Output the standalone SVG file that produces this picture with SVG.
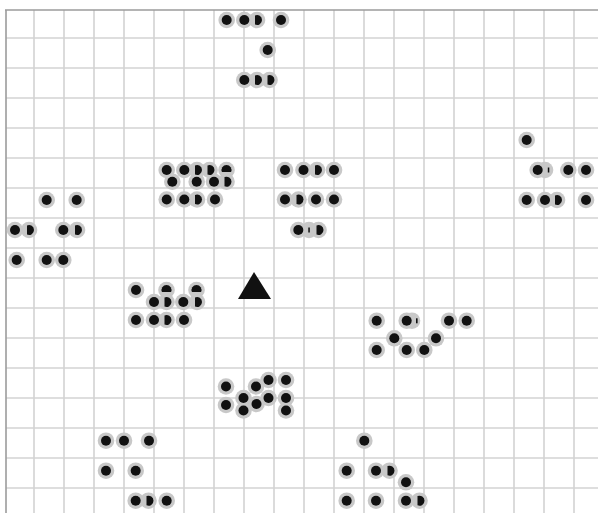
<svg xmlns="http://www.w3.org/2000/svg" xmlns:xlink="http://www.w3.org/1999/xlink" width="598" height="513" viewBox="0 0 598 513">
<style>
.grid{stroke:#d3d3d3;stroke-width:1.6;fill:none}
.border{stroke:#9c9c9c;stroke-width:1.6;fill:none}
.h{fill:#c8c8c8}
.k{fill:#111}
</style>
<defs>
<circle id="h" r="8.3"/>
<circle id="d" r="5"/>
</defs>
<rect width="598" height="513" fill="#fff"/>
<g id="grid">
<path class="grid" d="M34,10V513M64,10V513M94,10V513M124,10V513M154,10V513M184,10V513M214,10V513M244,10V513M274,10V513M304,10V513M334,10V513M364,10V513M394,10V513M424,10V513M454,10V513M484,10V513M514,10V513M544,10V513M574,10V513M6,38H598M6,68H598M6,98H598M6,128H598M6,158H598M6,188H598M6,218H598M6,248H598M6,278H598M6,308H598M6,338H598M6,368H598M6,398H598M6,428H598M6,458H598M6,488H598"/>
<path class="border" d="M5,10H598M6,10V513"/>
</g>
<g id="clusterA">
<g class="h">
<use href="#h" x="226.7" y="20"/><use href="#h" x="244.3" y="20"/><use href="#h" x="257" y="20"/><use href="#h" x="281" y="20"/>
<use href="#h" x="267.7" y="50"/>
<use href="#h" x="244.3" y="80"/><use href="#h" x="257" y="80"/><use href="#h" x="269.5" y="80"/>
</g>
<g class="k">
<use href="#d" x="226.7" y="20"/><use href="#d" x="244.3" y="20"/><use href="#d" x="281" y="20"/>
<use href="#d" x="267.7" y="50"/><use href="#d" x="244.3" y="80"/>
<path d="M255,15.42A5,5 0 1 1 255,24.58Z"/>
<path d="M255,75.42A5,5 0 1 1 255,84.58Z"/>
<path d="M267.5,75.42A5,5 0 1 1 267.5,84.58Z"/>
</g>
</g>
<g id="clusterB">
<g class="h">
<use href="#h" x="166.7" y="170"/><use href="#h" x="184.3" y="170"/><use href="#h" x="197" y="170"/><use href="#h" x="209.5" y="170"/><use href="#h" x="226.5" y="170"/>
<use href="#h" x="172.3" y="181.7"/><use href="#h" x="196.7" y="181.7"/><use href="#h" x="214" y="181.7"/><use href="#h" x="226.5" y="181.7"/>
<use href="#h" x="166.7" y="199.5"/><use href="#h" x="184.3" y="199.5"/><use href="#h" x="197" y="199.5"/><use href="#h" x="215" y="199.5"/>
</g>
<g class="k">
<use href="#d" x="166.7" y="170"/><use href="#d" x="184.3" y="170"/>
<use href="#d" x="172.3" y="181.7"/><use href="#d" x="196.7" y="181.7"/><use href="#d" x="214" y="181.7"/>
<use href="#d" x="166.7" y="199.5"/><use href="#d" x="184.3" y="199.5"/><use href="#d" x="215" y="199.5"/>
<path d="M195,165.42A5,5 0 1 1 195,174.58Z"/>
<path d="M207.5,165.42A5,5 0 1 1 207.5,174.58Z"/>
<path d="M221.92,172A5,5 0 1 1 231.08,172Z"/>
<path d="M224.5,177.12A5,5 0 1 1 224.5,186.28Z"/>
<path d="M195,194.92A5,5 0 1 1 195,204.08Z"/>
</g>
</g>
<g id="clusterLeft">
<g class="h">
<use href="#h" x="46.7" y="200"/><use href="#h" x="76.7" y="200"/>
<use href="#h" x="15" y="230"/><use href="#h" x="29" y="230"/><use href="#h" x="63.3" y="230"/><use href="#h" x="77" y="230"/>
<use href="#h" x="16.7" y="260"/><use href="#h" x="46.7" y="260"/><use href="#h" x="63.3" y="260"/>
</g>
<g class="k">
<use href="#d" x="46.7" y="200"/><use href="#d" x="76.7" y="200"/>
<use href="#d" x="15" y="230"/><use href="#d" x="63.3" y="230"/>
<use href="#d" x="16.7" y="260"/><use href="#d" x="46.7" y="260"/><use href="#d" x="63.3" y="260"/>
<path d="M27,225.42A5,5 0 1 1 27,234.58Z"/>
<path d="M75,225.42A5,5 0 1 1 75,234.58Z"/>
</g>
</g>
<g id="clusterC">
<g class="h">
<use href="#h" x="285" y="170"/><use href="#h" x="303.5" y="170"/><use href="#h" x="317" y="170"/><use href="#h" x="334" y="170"/>
<use href="#h" x="285" y="199.5"/><use href="#h" x="298.5" y="199.5"/><use href="#h" x="316" y="199.5"/><use href="#h" x="334" y="199.5"/>
<use href="#h" x="298.3" y="230"/><use href="#h" x="309" y="230"/><use href="#h" x="318.5" y="230"/>
</g>
<g class="k">
<use href="#d" x="285" y="170"/><use href="#d" x="303.5" y="170"/><use href="#d" x="334" y="170"/>
<use href="#d" x="285" y="199.5"/><use href="#d" x="316" y="199.5"/><use href="#d" x="334" y="199.5"/>
<use href="#d" x="298.3" y="230"/>
<path d="M315,165.42A5,5 0 1 1 315,174.58Z"/>
<path d="M296.5,194.92A5,5 0 1 1 296.5,204.08Z"/>
<path d="M316.5,225.42A5,5 0 1 1 316.5,234.58Z"/>
<rect x="308.3" y="227.5" width="1.5" height="5"/>
</g>
</g>
<g id="clusterD">
<g class="h">
<use href="#h" x="526.7" y="140"/>
<use href="#h" x="537.7" y="170"/><use href="#h" x="545" y="170"/><use href="#h" x="568.3" y="170"/><use href="#h" x="586" y="170"/>
<use href="#h" x="526.7" y="200"/><use href="#h" x="545" y="200"/><use href="#h" x="557" y="200"/><use href="#h" x="586" y="200"/>
</g>
<g class="k">
<use href="#d" x="526.7" y="140"/>
<use href="#d" x="537.7" y="170"/><use href="#d" x="568.3" y="170"/><use href="#d" x="586" y="170"/>
<use href="#d" x="526.7" y="200"/><use href="#d" x="545" y="200"/><use href="#d" x="586" y="200"/>
<path d="M555,195.42A5,5 0 1 1 555,204.58Z"/>
<rect x="547.8" y="167.5" width="1.5" height="5"/>
</g>
</g>
<g id="marker">
<polygon points="254,272 238,299 271,299" fill="#111"/>
</g>
<g id="clusterE">
<g class="h">
<use href="#h" x="136" y="290"/><use href="#h" x="166.5" y="290"/><use href="#h" x="196.5" y="290"/>
<use href="#h" x="154" y="302"/><use href="#h" x="166.5" y="302"/><use href="#h" x="183.3" y="302"/><use href="#h" x="197" y="302"/>
<use href="#h" x="136" y="320"/><use href="#h" x="154" y="320"/><use href="#h" x="166.5" y="320"/><use href="#h" x="184" y="320"/>
</g>
<g class="k">
<use href="#d" x="136" y="290"/>
<use href="#d" x="154" y="302"/><use href="#d" x="183.3" y="302"/>
<use href="#d" x="136" y="320"/><use href="#d" x="154" y="320"/><use href="#d" x="184" y="320"/>
<path d="M161.92,292A5,5 0 1 1 171.08,292Z"/>
<path d="M191.92,292A5,5 0 1 1 201.08,292Z"/>
<path d="M164.5,297.42A5,5 0 1 1 164.5,306.58Z"/>
<path d="M195,297.42A5,5 0 1 1 195,306.58Z"/>
<path d="M164.5,315.42A5,5 0 1 1 164.5,324.58Z"/>
</g>
</g>
<g id="clusterF">
<g class="h">
<use href="#h" x="376.7" y="320.7"/><use href="#h" x="406.7" y="320.7"/><use href="#h" x="412" y="320.7"/><use href="#h" x="449" y="320.7"/><use href="#h" x="466.7" y="320.7"/>
<use href="#h" x="394.3" y="338.3"/><use href="#h" x="436" y="338.3"/>
<use href="#h" x="376.7" y="350"/><use href="#h" x="406.7" y="350"/><use href="#h" x="424.3" y="350"/>
</g>
<g class="k">
<use href="#d" x="376.7" y="320.7"/><use href="#d" x="406.7" y="320.7"/><use href="#d" x="449" y="320.7"/><use href="#d" x="466.7" y="320.7"/>
<use href="#d" x="394.3" y="338.3"/><use href="#d" x="436" y="338.3"/>
<use href="#d" x="376.7" y="350"/><use href="#d" x="406.7" y="350"/><use href="#d" x="424.3" y="350"/>
<rect x="416" y="318.3" width="1.6" height="5"/>
</g>
</g>
<g id="clusterG">
<g class="h">
<use href="#h" x="226" y="386.5"/><use href="#h" x="226" y="405"/><use href="#h" x="243.5" y="398"/><use href="#h" x="243.5" y="410.5"/>
<use href="#h" x="256" y="386.5"/><use href="#h" x="256.5" y="404"/><use href="#h" x="268.5" y="380"/><use href="#h" x="268.5" y="398"/>
<use href="#h" x="286" y="380"/><use href="#h" x="286" y="398"/><use href="#h" x="286" y="410.5"/>
</g>
<g class="k">
<use href="#d" x="226" y="386.5"/><use href="#d" x="226" y="405"/><use href="#d" x="243.5" y="398"/><use href="#d" x="243.5" y="410.5"/>
<use href="#d" x="256" y="386.5"/><use href="#d" x="256.5" y="404"/><use href="#d" x="268.5" y="380"/><use href="#d" x="268.5" y="398"/>
<use href="#d" x="286" y="380"/><use href="#d" x="286" y="398"/><use href="#d" x="286" y="410.5"/>
</g>
</g>
<g id="clusterH">
<g class="h">
<use href="#h" x="106" y="440.7"/><use href="#h" x="124" y="440.7"/><use href="#h" x="149" y="440.7"/>
<use href="#h" x="106" y="470.7"/><use href="#h" x="135.7" y="470.7"/>
<use href="#h" x="135.7" y="500.7"/><use href="#h" x="148.5" y="500.7"/><use href="#h" x="166.7" y="500.7"/>
</g>
<g class="k">
<use href="#d" x="106" y="440.7"/><use href="#d" x="124" y="440.7"/><use href="#d" x="149" y="440.7"/>
<use href="#d" x="106" y="470.7"/><use href="#d" x="135.7" y="470.7"/>
<use href="#d" x="135.7" y="500.7"/><use href="#d" x="166.7" y="500.7"/>
<path d="M146.5,496.12A5,5 0 1 1 146.5,505.28Z"/>
</g>
</g>
<g id="clusterI">
<g class="h">
<use href="#h" x="364.3" y="440.7"/>
<use href="#h" x="346.7" y="470.7"/><use href="#h" x="376" y="470.7"/><use href="#h" x="389.5" y="470.7"/>
<use href="#h" x="406" y="482.3"/>
<use href="#h" x="346.7" y="500.7"/><use href="#h" x="376" y="500.7"/><use href="#h" x="406" y="500.7"/><use href="#h" x="419.5" y="500.7"/>
</g>
<g class="k">
<use href="#d" x="364.3" y="440.7"/>
<use href="#d" x="346.7" y="470.7"/><use href="#d" x="376" y="470.7"/>
<use href="#d" x="406" y="482.3"/>
<use href="#d" x="346.7" y="500.7"/><use href="#d" x="376" y="500.7"/><use href="#d" x="406" y="500.7"/>
<path d="M387.5,466.12A5,5 0 1 1 387.5,475.28Z"/>
<path d="M417.5,496.12A5,5 0 1 1 417.5,505.28Z"/>
</g>
</g>
</svg>
